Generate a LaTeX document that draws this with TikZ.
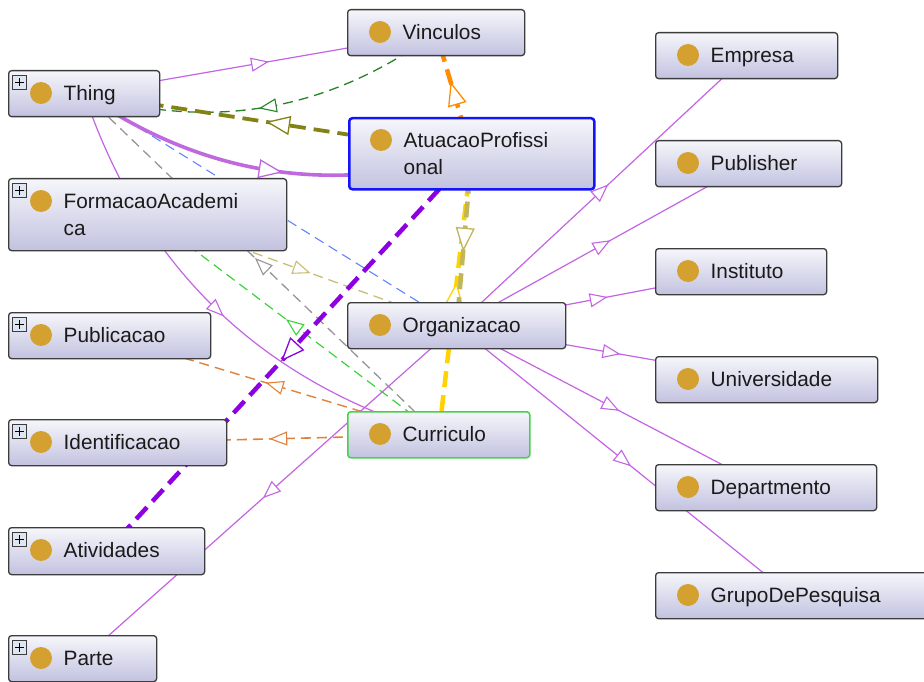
\documentclass[tikz,border=0pt]{standalone}
\usepackage{fontspec}
\setmainfont{Liberation Sans}
\usetikzlibrary{arrows.meta,calc,decorations.markings}

% palette
\definecolor{boxline}{RGB}{60,60,60}
\definecolor{boxtop}{RGB}{246,246,251}
\definecolor{boxbot}{RGB}{194,194,224}
\definecolor{dotgold}{RGB}{212,160,48}
\definecolor{plusbg}{RGB}{222,230,242}
\definecolor{txt}{RGB}{26,26,26}
\definecolor{selblue}{RGB}{20,20,250}
\definecolor{selgreen}{RGB}{70,210,70}
\definecolor{subcls}{RGB}{196,100,228}
\definecolor{thickpurp}{RGB}{192,104,222}
\definecolor{dkgreen}{RGB}{40,130,40}
\definecolor{olivecol}{RGB}{132,130,20}
\definecolor{bluedash}{RGB}{100,130,255}
\definecolor{graydash}{RGB}{150,150,150}
\definecolor{ltgreen}{RGB}{60,210,60}
\definecolor{khaki}{RGB}{200,190,120}
\definecolor{khakitwo}{RGB}{192,182,90}
\definecolor{orng}{RGB}{225,130,60}
\definecolor{violetcol}{RGB}{140,0,225}
\definecolor{orangetwo}{RGB}{255,140,0}
\definecolor{yellowcol}{RGB}{255,210,0}

\pgfdeclarelayer{bg}
\pgfdeclarelayer{edges}
\pgfsetlayers{bg,edges,main}

\tikzset{
  clsbox/.style={draw=boxline, line width=1.3pt, rounded corners=3pt,
    top color=boxtop, bottom color=boxbot, inner sep=0pt},
  clstext/.style={anchor=base west, inner sep=0pt, text=txt,
    font=\fontsize{20.8}{25}\selectfont},
  % open arrow head centred on the middle of the connector
  tipS/.style={postaction={decorate}, decoration={markings,
    mark=at position 0.5 with {\pgftransformxshift{9pt}%
      \arrow{Triangle[fill=white,length=18pt,width=14pt,line width=1.1pt]}}}},
  tipL/.style={postaction={decorate}, decoration={markings,
    mark=at position 0.5 with {\pgftransformxshift{12pt}%
      \arrow{Triangle[fill=white,length=24pt,width=19pt,line width=1.3pt]}}}},
  shortdash/.style={dash pattern=on 10pt off 6pt},
  longdash/.style={dash pattern=on 16pt off 8pt},
  isa/.style={draw=subcls, line width=1.2pt, tipS},
}

% class box: [extra style]{name}{left}{top}{width}{height}{first text line}
\newcommand\owlclass[7][]{%
  \node[clsbox,#1,minimum width=#5pt,minimum height=#6pt,anchor=north west] (#2) at (#3,#4) {};
  \fill[dotgold] ($(#2.north west)+(33,23)$) circle (11pt);
  \node[clstext] (#2-t) at ($(#2.north west)+(55.5,30.5)$) {#7};
}
% small expand button in the top left corner
\newcommand\expander[1]{%
  \draw[line width=0.8pt, draw=boxline, fill=plusbg] ($(#1.north west)+(4,5)$) rectangle ++(14.5,14.5);
  \draw[line width=1.4pt, black] ($(#1.north west)+(7,12.25)$) -- ++(8.5,0)
        ($(#1.north west)+(11.25,8)$) -- ++(0,8.5);
}

\begin{document}
\begin{tikzpicture}[x=1pt,y=-1pt]
\useasboundingbox (0,0) rectangle (924,682);
\begin{pgfonlayer}{bg}
  \fill[white] (0,0) rectangle (924,682);
\end{pgfonlayer}

% classes
\owlclass{Thing}{8}{70}{151}{46}{Thing}
\expander{Thing}
\owlclass{Vinculos}{347}{9}{177}{46}{Vinculos}
\owlclass[draw=selblue,line width=2.5pt]{Atuacao}{348}{117}{245}{71}{AtuacaoProfissi}
\node[clstext] (Atuacao-t2) at ($(Atuacao.north west)+(55.5,57.5)$) {onal};
\owlclass{Formacao}{8}{178}{278}{72}{FormacaoAcademi}
\node[clstext] (Formacao-t2) at ($(Formacao.north west)+(55.5,57.5)$) {ca};
\expander{Formacao}
\owlclass{Publicacao}{8}{312}{202}{46}{Publicacao}
\expander{Publicacao}
\owlclass{Organizacao}{347}{302}{218}{46}{Organizacao}
\owlclass{Identificacao}{8}{419}{218}{46}{Identificacao}
\expander{Identificacao}
\owlclass[draw=selgreen,line width=1.5pt]{Curriculo}{347}{411}{182}{46}{Curriculo}
\owlclass{Atividades}{8}{527}{196}{47}{Atividades}
\expander{Atividades}
\owlclass{Parte}{8}{635}{148}{46}{Parte}
\expander{Parte}
\owlclass{Empresa}{655}{32}{182}{46}{Empresa}
\owlclass{Publisher}{655}{140}{186}{46}{Publisher}
\owlclass{Instituto}{655}{248}{171}{46}{Instituto}
\owlclass{Universidade}{655}{356}{222}{46}{Universidade}
\owlclass{Departmento}{655}{464}{221}{46}{Departmento}
\owlclass{GrupoDePesquisa}{655}{572}{272}{46}{GrupoDePesquisa}

% connectors, drawn centre to centre beneath the boxes
\begin{pgfonlayer}{edges}
  % Thing
  \draw[isa] (Thing.center) -- (Vinculos.center);
  \draw[draw=dkgreen, line width=1.3pt, shortdash, tipS]
    (Vinculos.center) .. controls (328.5,111.3) and (211.1,131.7) .. (Thing.center);
  \draw[draw=bluedash, line width=1.1pt, shortdash, tipS] (Thing.center) -- (Organizacao.center);
  \draw[draw=graydash, line width=1.3pt, shortdash, tipS] (Curriculo.center) -- (Thing.center);
  \draw[isa] (Thing.center) .. controls (142.7,267.9) and (260.8,381.5) .. (Curriculo.center);
  \draw[draw=olivecol, line width=3.8pt, longdash, tipL] (Atuacao.center) -- (Thing.center);
  \draw[draw=thickpurp, line width=3.6pt, tipL]
    (Thing.center) .. controls (202.8,176) and (331.8,195.9) .. (Atuacao.center);
  % FormacaoAcademica and Curriculo
  \draw[draw=khaki, line width=1.3pt, shortdash, tipS] (Formacao.center) -- (Organizacao.center);
  \draw[draw=ltgreen, line width=1.2pt, shortdash, tipS] (Curriculo.center) -- (Formacao.center);
  \draw[draw=orng, line width=1.4pt, shortdash, tipS] (Curriculo.center) -- (Publicacao.center);
  \draw[draw=orng, line width=1.6pt, shortdash, tipS] (Curriculo.center) -- (Identificacao.center);
  % AtuacaoProfissional
  \draw[draw=yellowcol, line width=4.5pt, longdash, tipL] (Curriculo.center) -- (Atuacao.center);
  \draw[draw=khakitwo, line width=4.5pt, longdash, tipL] (Atuacao.center) -- (Organizacao.center);
  \draw[draw=violetcol, line width=4.5pt, longdash, tipL] (Atuacao.center) -- (Atividades.center);
  \draw[draw=orangetwo, line width=4.5pt, longdash, tipL] (Atuacao.center) -- (Vinculos.center);
  % Organizacao and its subclasses
  \draw[isa] (Organizacao.center) -- (Empresa.center);
  \draw[isa] (Organizacao.center) -- (Publisher.center);
  \draw[isa] (Organizacao.center) -- (Instituto.center);
  \draw[isa] (Organizacao.center) -- (Universidade.center);
  \draw[isa] (Organizacao.center) -- (Departmento.center);
  \draw[isa] (Organizacao.center) -- (GrupoDePesquisa.center);
  \draw[isa] (Organizacao.center) -- (Parte.center);
\end{pgfonlayer}
\end{tikzpicture}
\end{document}
